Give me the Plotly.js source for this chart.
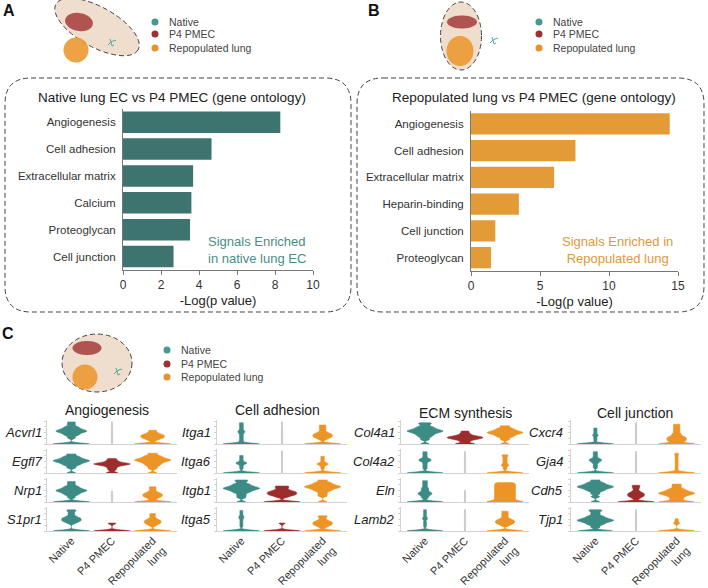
<!DOCTYPE html>
<html><head><meta charset="utf-8">
<script src="https://cdn.plot.ly/plotly-3.0.1.min.js"></script>
<style>html,body{margin:0;padding:0;background:#fff}#chart{width:708px;height:588px}</style>
</head><body><div id="chart"></div>
<script>
// ---------- data ----------
const termsA = ['Angiogenesis','Cell adhesion','Extracellular matrix','Calcium','Proteoglycan','Cell junction'];
const valuesA = [8.28, 4.66, 3.69, 3.6, 3.53, 2.66];
const termsB = ['Angiogenesis','Cell adhesion','Extracellular matrix','Heparin-binding','Cell junction','Proteoglycan'];
const valuesB = [14.4, 7.57, 6.02, 3.47, 1.76, 1.45];
const ticksA = [0,2,4,6,8,10];
const ticksB = [0,5,10,15];
const groups = ['Native','P4 PMEC','Repopulated lung'];
const groupTickLabels = ['Native','P4 PMEC','Repopulated<br>lung'];
const moduleTitles = ['Angiogenesis','Cell adhesion','ECM synthesis','Cell junction'];
const moduleGenes = [['Acvrl1','Egfl7','Nrp1','S1pr1'],['Itga1','Itga6','Itgb1','Itga5'],['Col4a1','Col4a2','Eln','Lamb2'],['Cxcr4','Gja4','Cdh5','Tjp1']];
// genes with almost no expressing P4 PMEC cells (drawn as a faint line)
const faintP4 = ['Acvrl1','Nrp1','Itga1','Itga6','Col4a2','Eln','Lamb2','Cxcr4','Gja4','Tjp1'];
// expression samples per gene: [Native, P4 PMEC, Repopulated lung]
const Acvrl1 = [[0,0,0,0,0,0.8,1.1,1.25,1.4,1.5,1.6,1.7,1.7,1.8,1.9,2.0,2.15,2.3,2.6,2.9],[0,0.7,1.4,2.1,2.9],[0,0,0,0,0,0.5,0.7,0.8,0.9,1.0,1.1,1.2,1.3,1.5,1.8]];
const Egfl7 = [[0,0.7,1.0,1.15,1.3,1.4,1.5,1.6,1.6,1.7,1.8,1.9,2.05,2.2,2.5],[0,0,0.4,0.6,0.8,0.95,1.05,1.1,1.15,1.2,1.2,1.25,1.3,1.4,1.55,1.7,1.9],[0,0.6,0.9,1.1,1.25,1.4,1.5,1.6,1.7,1.7,1.8,1.9,2.0,2.15,2.3,2.6]];
const Nrp1 = [[0,0,0,0,0,0.6,0.9,1.05,1.2,1.3,1.4,1.5,1.5,1.6,1.7,1.8,1.95,2.1,2.4,2.7],[0,0.5,1.0,1.4],[0,0,0,0,0,0,0.4,0.6,0.7,0.8,0.9,1.0,1.1,1.2,1.4,1.7,2.0]];
const S1pr1 = [[0,0,0,0,0,0,1.0,1.2,1.3,1.4,1.5,1.6,1.7,1.8,2.0,2.3,2.6,2.8],[0,0,0,0,0,0,0,0,0,0.95,1.05],[0,0,0,0,0,0,0,0.7,0.9,1.0,1.1,1.2,1.3,1.4,1.5,1.7,2.0,2.3]];
const Itga1 = [[0,0,0,0,0,0,0,0,0,0,0.4,0.7,1.0,1.3,1.55,1.65,1.9,2.2,2.5,2.8],[0,0.7,1.4,2.1,2.9],[0,0,0,0,0,0,0.6,0.8,0.9,1.0,1.1,1.2,1.3,1.4,1.6,1.9,2.2,2.5]];
const Itga6 = [[0,0,0,0,0,0,0,0,0,0,0,0.6,0.9,1.2,1.25,1.35,1.4,1.7,2.0,2.3],[0,0.8,1.6,2.4,2.9],[0,0,0,0,0,0,0,0,0,0,0,0.6,0.9,1.1,1.15,1.25,1.3,1.6,1.9,2.2]];
const Itgb1 = [[0,0.6,0.9,1.2,1.35,1.5,1.6,1.7,1.8,1.8,1.9,2.0,2.1,2.25,2.4,2.7,2.9],[0,0,0,0,0.65,0.85,0.95,1.05,1.15,1.25,1.35,1.45,1.65,1.9,2.1],[0,0.8,1.1,1.4,1.55,1.7,1.8,1.9,2.0,2.0,2.1,2.2,2.3,2.45,2.6,2.9]];
const Itga5 = [[0,0,0,0,0,0,0,0,0,0,0,0,0,0.6,0.9,1.2,1.5,1.75,1.85,2.1,2.4,2.7],[0,0,0,0,0,0,0,0,0,0,0,0,0.95,1.05],[0,0,0,0,0,0,0.5,0.7,0.8,0.9,1.0,1.1,1.2,1.3,1.5,1.8,2.0]];
const Col4a1 = [[0,0.6,0.9,1.1,1.25,1.4,1.5,1.6,1.7,1.7,1.8,1.9,2.0,2.15,2.3,2.6,2.8],[0,0,0,0.3,0.5,0.6,0.7,0.75,0.8,0.85,0.9,0.95,1.0,1.1,1.25,1.45,1.7],[0,0.6,0.9,1.05,1.2,1.3,1.4,1.5,1.5,1.6,1.7,1.8,1.95,2.1,2.4]];
const Col4a2 = [[0,0,0,0,0,0,0,0,0,0.6,0.9,1.2,1.5,1.6,1.7,1.8,1.9,2.2,2.5,2.8],[0,0.7,1.4,2.1,2.8],[0,0,0,0,0,0,0,0,0,0.6,0.95,1.05,1.3,1.6,1.9,2.2,2.4]];
const Eln = [[0,0,0,0,0,0,0,0,0.5,0.7,0.9,1.0,1.1,1.2,1.3,1.5,1.7,1.9,2.2,2.5,2.8],[0,0.5,1.0,1.5],[0,0,0,0.15,0.3,0.45,0.6,0.75,0.9,1.05,1.2,1.35,1.5,1.65,1.8,1.95,2.1,2.25,2.4,2.55]];
const Lamb2 = [[0,0,0,0,0,0,0,0,0,0,0,0,0,0.6,0.9,1.2,1.55,1.65,1.9,2.2,2.5,2.8],[0,0.7,1.4,2.1,2.8],[0,0,0,0,0,0,0.7,0.9,1.0,1.1,1.2,1.3,1.4,1.5,1.7,2.0,2.3,2.6]];
const Cxcr4 = [[0,0,0,0,0,0,0,0,0,0,0,0,0.5,0.8,1.1,1.2,1.5,1.8,2.1],[0,0.7,1.4,2.1,2.8],[0,0,0,0,0,0,0.3,0.4,0.5,0.6,0.7,0.8,0.9,1.0,1.2,1.4,1.7,2.0,2.3,2.6]];
const Gja4 = [[0,0,0,0,0,0,0,0,0,0.7,1.0,1.3,1.5,1.6,1.7,1.8,1.9,2.2,2.5,2.8],[0,0.7,1.4,2.1,2.8],[0,0,0,0,0,0,0,0,0,0,0,0,0,0.3,0.6,0.9,1.2,1.5,1.8,2.1,2.4,2.6]];
const Cdh5 = [[0,0.7,1.1,1.4,1.55,1.7,1.8,1.9,2.0,2.0,2.1,2.2,2.3,2.45,2.6,2.9],[0,0,0,0,0,0,0,0.45,0.65,0.75,0.85,0.95,1.05,1.15,1.25,1.45,1.75,2.0,2.2],[0,0,0,0,0.3,0.5,0.7,0.85,0.95,1.05,1.15,1.15,1.25,1.35,1.45,1.6,1.75,2.05,2.35]];
const Tjp1 = [[0,0,0,0,0.5,0.8,0.95,1.1,1.2,1.3,1.4,1.4,1.5,1.6,1.7,1.85,2.0,2.3,2.6,2.8],[0,0.7,1.4,2.1,2.8],[0,0,0,0,0,0,0,0,0,0,0,0,0.95,1.05,1.3,1.6]];
const expr = {Acvrl1,Egfl7,Nrp1,S1pr1,Itga1,Itga6,Itgb1,Itga5,Col4a1,Col4a2,Eln,Lamb2,Cxcr4,Gja4,Cdh5,Tjp1};

// ---------- styling ----------
const W = 708, H = 588;
const px = x => x / W, py = y => 1 - y / H;
const FONT = 'Liberation Sans, Arial, sans-serif';
const TEAL_BAR = '#3e746f', ORANGE_BAR = '#e39b38';
const TEAL = '#3d8b85', RED = '#9b2d2d', ORANGE = '#ec9526';
const groupColors = [TEAL, RED, ORANGE];
const legendColors = ['#4a9690', '#9e3030', '#e8922a'];

const traces = [];
traces.push({type:'bar', orientation:'h', x: valuesA, y: termsA, xaxis:'x', yaxis:'y',
  marker:{color:TEAL_BAR}, hoverinfo:'skip'});
traces.push({type:'bar', orientation:'h', x: valuesB, y: termsB, xaxis:'x2', yaxis:'y2',
  marker:{color:ORANGE_BAR}, hoverinfo:'skip'});

const barX = (dom, rng, tv) => ({domain:dom, range:rng, tickvals:tv, ticks:'outside', ticklen:4,
  tickcolor:'#777', showline:true, linecolor:'#777', linewidth:1, showgrid:false, zeroline:false,
  tickfont:{size:12, color:'#333'}, automargin:false,
  title:{text:'-Log(p value)', font:{size:13, color:'#222'}, standoff:4}});
const barY = (dom) => ({domain:dom, autorange:'reversed', showline:true, linecolor:'#777', linewidth:1,
  ticks:'', showgrid:false, zeroline:false, tickfont:{size:11.5, color:'#333'}, automargin:false, ticklabelstandoff:4});

const layout = {
  width:W, height:H, margin:{l:0,r:0,t:0,b:0}, paper_bgcolor:'#fff', plot_bgcolor:'rgba(0,0,0,0)',
  font:{family:FONT, color:'#333'}, showlegend:false, bargap:0.2,
  violinmode:'overlay', violingap:0, violingroupgap:0,
  xaxis: Object.assign(barX([px(123), px(313)], [0,10], ticksA), {anchor:'y'}),
  yaxis: Object.assign(barY([py(270), py(108.7)]), {anchor:'x'}),
  xaxis2: Object.assign(barX([px(471), px(678)], [0,15], ticksB), {anchor:'y2'}),
  yaxis2: Object.assign(barY([py(271), py(110.5)]), {anchor:'x2'}),
  annotations: [], shapes: []
};

// ---------- violin panels ----------
const colX = [[47,177],[217,347],[401,529],[571,701]];
const labelRight = [44, 213, 397, 565];
const rowY = [[420,444],[449,473],[478,502],[507,531]];
const titleX = [107, 277, 465, 635];
const titleY = [410, 410, 413, 413];
let ai = 3;
moduleGenes.forEach((genes, c) => {
  layout.annotations.push({text: moduleTitles[c], x: px(titleX[c]), y: py(titleY[c]), xref:'paper', yref:'paper',
    showarrow:false, xanchor:'center', yanchor:'middle', font:{size:14, color:'#222'}});
  genes.forEach((g, r) => {
    const xa = 'x' + ai, ya = 'y' + ai;
    layout['xaxis' + ai] = {domain:[px(colX[c][0]), px(colX[c][1])], anchor: ya, type:'category',
      categoryorder:'array', categoryarray: groupTickLabels, range:[-0.6, 2.6], showline:true,
      linecolor:'#d2d2d2', linewidth:1, ticks:'', showticklabels: r === 3, tickangle:-45,
      tickfont:{size:11, color:'#333'}, ticklabelstandoff:-2, showgrid:false, zeroline:false, automargin:false};
    layout['yaxis' + ai] = {domain:[py(rowY[r][1]), py(rowY[r][0])], anchor: xa, range:[0, 3.15],
      showline:true, linecolor:'#d2d2d2', linewidth:1, ticks:'outside', ticklen:2, tickcolor:'#d2d2d2',
      tickvals:[0, 0.75, 1.5, 2.25, 3], showticklabels:false, showgrid:false, zeroline:false, automargin:false};
    const s = expr[g];
    groups.forEach((grp, k) => {
      const faint = k === 1 && faintP4.includes(g);
      const col = faint ? '#c4c4c4' : groupColors[k];
      traces.push({type:'violin', xaxis: xa, yaxis: ya, x: s[k].map(() => groupTickLabels[k]), y: s[k],
        width: faint ? 0.03 : 0.9, bandwidth: faint ? 0.5 : 0.13, spanmode:'hard', scalemode:'width',
        points:false, box:{visible:false}, meanline:{visible:false}, fillcolor: col,
        line:{color: col, width: faint ? 0.8 : 0.5}, hoverinfo:'skip', name: grp});
    });
    layout.annotations.push({text:'<i>' + g + '</i>', x: px(labelRight[c]), y: py((rowY[r][0] + rowY[r][1]) / 2),
      xref:'paper', yref:'paper', showarrow:false, xanchor:'right', yanchor:'middle', font:{size:13, color:'#222'}});
    ai++;
  });
});

// ---------- titles, notes ----------
const ann = (text, x, y, opts) => layout.annotations.push(Object.assign({text, x: px(x), y: py(y), xref:'paper', yref:'paper',
  showarrow:false, xanchor:'center', yanchor:'middle'}, opts || {}));
ann('<b>A</b>', 9, 11, {font:{size:16, color:'#111'}});
ann('<b>B</b>', 374, 11, {font:{size:16, color:'#111'}});
ann('<b>C</b>', 8, 333, {font:{size:16, color:'#111'}});
ann('Native lung EC vs P4 PMEC (gene ontology)', 172, 97, {font:{size:13.5, color:'#222'}});
ann('Repopulated lung vs P4 PMEC (gene ontology)', 534, 97, {font:{size:13.5, color:'#222'}});
ann('Signals Enriched<br>in native lung EC', 257, 250, {font:{size:13, color:'#4a8d87'}, align:'left'});
ann('Signals Enriched in<br>Repopulated lung', 617, 250, {font:{size:13, color:'#e0983a'}, align:'center'});

// legends
const legend = (dotX, ys) => {
  groups.forEach((g, k) => {
    layout.shapes.push({type:'circle', xref:'paper', yref:'paper', x0: px(dotX - 3.5), x1: px(dotX + 3.5),
      y0: py(ys[k] + 3.5), y1: py(ys[k] - 3.5), fillcolor: legendColors[k], line:{width:0}});
    ann(g, dotX + 12, ys[k], {xanchor:'left', font:{size:10.5, color:'#444'}});
  });
};
legend(155, [22, 34, 48]);
legend(539, [22, 34, 48]);
legend(167, [350, 364, 377]);

// ---------- decorative UMAP thumbnails & frames ----------
function ellipsePath(cx, cy, a, b, deg) {
  const t = deg * Math.PI / 180; let d = '';
  for (let i = 0; i <= 60; i++) {
    const u = i / 60 * 2 * Math.PI;
    const x = cx + a * Math.cos(u) * Math.cos(t) - b * Math.sin(u) * Math.sin(t);
    const y = cy + a * Math.cos(u) * Math.sin(t) + b * Math.sin(u) * Math.cos(t);
    d += (i ? 'L' : 'M') + px(x).toFixed(5) + ',' + py(y).toFixed(5);
  }
  return d + 'Z';
}
const DASH = {color:'#444', width:1, dash:'5px,3px'};
const ell = (cx, cy, a, b, deg, fill, line, op) => layout.shapes.push({type:'path', xref:'paper', yref:'paper',
  path: ellipsePath(cx, cy, a, b, deg), fillcolor: fill, line: line || {width:0}, opacity: op || 1, layer:'above'});
function tealMark(cx, cy) {
  const pts = [[-4,3,-1,0],[-1,0,3,-2],[-1,0,0,4],[-2,-3,-1,0],[3,-2,4,-1],[0,4,2,3]];
  let d = '';
  pts.forEach(p => { d += 'M' + px(cx + p[0]) + ',' + py(cy + p[1]) + 'L' + px(cx + p[2]) + ',' + py(cy + p[3]); });
  layout.shapes.push({type:'path', xref:'paper', yref:'paper', path:d, line:{color:'#5aa39c', width:1}});
}
// A
ell(97, 27, 47, 20, 29, '#efdecd', DASH);
ell(79, 22, 14, 9, 10, '#a43c3c', null, 0.85);
ell(76, 50, 12.5, 12.5, 0, '#eb9a35', null, 0.92);
tealMark(112, 42);
// B
ell(461, 36, 20.5, 34, 0, '#efdecd', DASH);
ell(462, 22, 15, 6.5, 0, '#a43c3c', null, 0.85);
ell(460, 51, 13.5, 15, 0, '#eb9a35', null, 0.92);
tealMark(494, 40);
// C
ell(97, 363, 35, 29, 0, '#efdecd', DASH);
ell(87, 348, 14.5, 7, 0, '#a43c3c', null, 0.85);
ell(85, 377, 12.5, 12.5, 0, '#eb9a35', null, 0.92);
tealMark(118, 371);

function roundRect(x0, y0, x1, y1, r) {
  const P = (x, y) => px(x).toFixed(5) + ',' + py(y).toFixed(5);
  return 'M' + P(x0 + r, y0) + 'L' + P(x1 - r, y0) + 'Q' + P(x1, y0) + ' ' + P(x1, y0 + r) +
    'L' + P(x1, y1 - r) + 'Q' + P(x1, y1) + ' ' + P(x1 - r, y1) + 'L' + P(x0 + r, y1) +
    'Q' + P(x0, y1) + ' ' + P(x0, y1 - r) + 'L' + P(x0, y0 + r) + 'Q' + P(x0, y0) + ' ' + P(x0 + r, y0) + 'Z';
}
layout.shapes.push({type:'path', xref:'paper', yref:'paper', path: roundRect(5, 78, 351, 312, 26), line: DASH, layer:'below'});
layout.shapes.push({type:'path', xref:'paper', yref:'paper', path: roundRect(357, 78, 704, 312, 26), line: DASH, layer:'below'});

Plotly.newPlot('chart', traces, layout, {staticPlot:true, displayModeBar:false});
</script>
</body></html>
